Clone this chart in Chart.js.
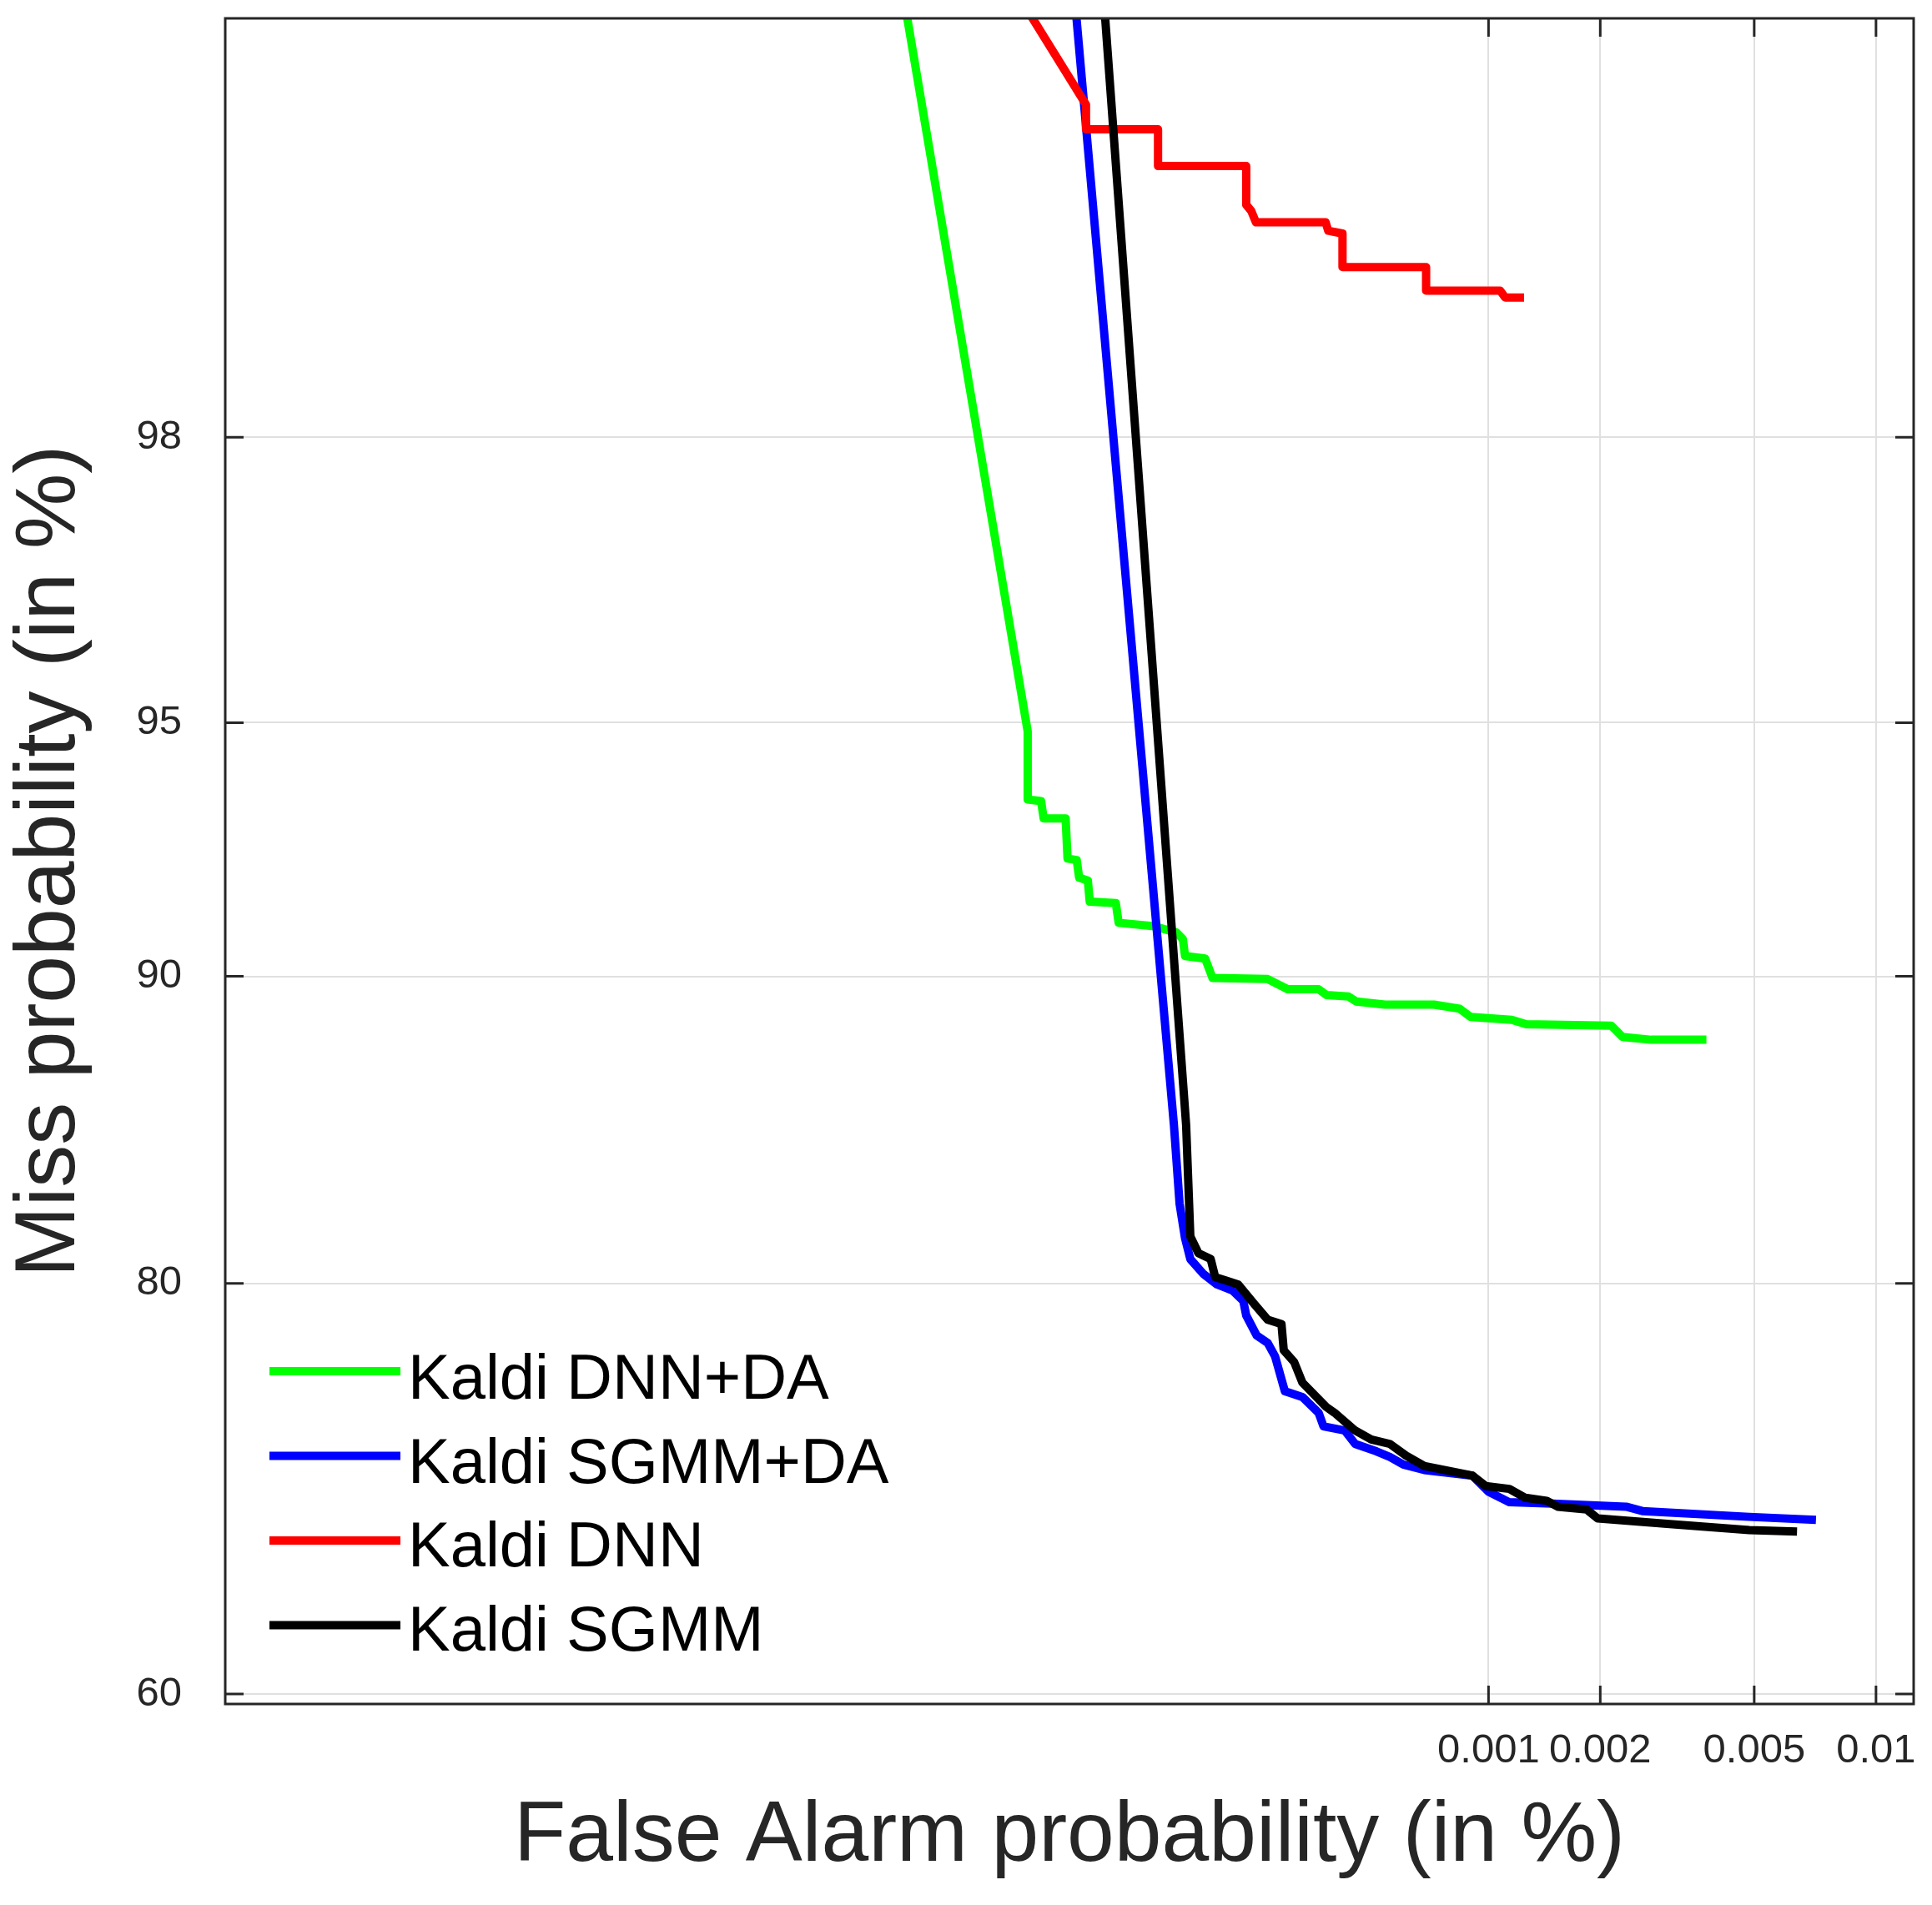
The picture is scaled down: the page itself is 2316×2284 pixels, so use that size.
<!DOCTYPE html>
<html>
<head>
<meta charset="utf-8">
<title>DET curves</title>
<script src="https://cdn.jsdelivr.net/npm/chart.js@4.4.1/dist/chart.umd.min.js"></script>
<style>
    html, body { margin: 0; padding: 0; background: #ffffff; }
    #wrap { width: 2316px; height: 2284px; }
</style>
</head>
<body>
<div id="wrap"><canvas id="detChart"></canvas></div>
<script>
    // values are in % : false alarm (x) and miss (y)
    const seriesNames = ['Kaldi DNN+DA', 'Kaldi SGMM+DA', 'Kaldi DNN', 'Kaldi SGMM'];
    const seriesColors = ['#00ff00', '#0000ff', '#ff0000', '#000000'];

    const dnnDaFA = [1.52e-5, 4.46e-5, 4.46e-5, 4.91e-5, 5.00e-5, 5.85e-5, 5.93e-5, 6.33e-5, 6.44e-5, 6.85e-5,
        6.94e-5, 8.34e-5, 8.51e-5, 1.09e-4, 1.27e-4, 1.33e-4, 1.35e-4, 1.55e-4, 1.63e-4, 2.37e-4,
        2.71e-4, 3.33e-4, 3.51e-4, 4.06e-4, 4.27e-4, 5.15e-4, 7.07e-4, 8.33e-4, 8.93e-4, 1.158e-3,
        1.267e-3, 2.14e-3, 2.29e-3, 2.72e-3, 3.78e-3];
    const dnnDaMiss = [99.8, 94.87, 93.76, 93.73, 93.42, 93.42, 92.65, 92.62, 92.26, 92.20,
        91.75, 91.72, 91.28, 91.20, 91.06, 90.90, 90.50, 90.44, 89.96, 89.93,
        89.67, 89.67, 89.52, 89.48, 89.35, 89.27, 89.27, 89.16, 88.94, 88.86,
        88.74, 88.70, 88.39, 88.31, 88.31];

    const sgmmDaFA = [5.73e-5, 1.25e-4, 1.30e-4, 1.35e-4, 1.40e-4, 1.53e-4, 1.68e-4, 1.87e-4, 2.01e-4, 2.05e-4,
        2.20e-4, 2.37e-4, 2.49e-4, 2.66e-4, 2.99e-4, 3.33e-4, 3.44e-4, 3.96e-4, 4.24e-4, 4.87e-4,
        5.32e-4, 5.80e-4, 6.64e-4, 9.03e-4, 1.0e-3, 1.14e-3, 1.49e-3, 2.34e-3, 2.58e-3, 4.86e-3,
        7.13e-3];
    const sgmmDaMiss = [99.8, 85.75, 83.04, 81.76, 80.96, 80.38, 79.96, 79.71, 79.29, 78.69,
        77.85, 77.53, 76.95, 75.40, 75.14, 74.42, 73.79, 73.59, 72.96, 72.61,
        72.34, 71.98, 71.71, 71.44, 70.65, 70.13, 70.06, 69.91, 69.69, 69.40,
        69.25];

    const dnnFA = [2.28e-5, 6.76e-5, 6.76e-5, 1.12e-4, 1.12e-4, 2.05e-4, 2.05e-4, 2.12e-4, 2.19e-4, 3.49e-4,
        3.55e-4, 3.90e-4, 3.90e-4, 6.72e-4, 6.72e-4, 1.077e-3, 1.11e-3, 1.25e-3];
    const dnnMiss = [99.8, 99.43, 99.37, 99.37, 99.27, 99.27, 99.15, 99.13, 99.09, 99.09,
        99.06, 99.05, 98.92, 98.92, 98.82, 98.82, 98.79, 98.79];

    const sgmmFA = [7.14e-5, 1.36e-4, 1.40e-4, 1.48e-4, 1.61e-4, 1.66e-4, 1.77e-4, 1.94e-4, 2.16e-4, 2.37e-4,
        2.60e-4, 2.64e-4, 2.83e-4, 2.99e-4, 3.50e-4, 3.70e-4, 4.24e-4, 4.71e-4, 5.32e-4, 5.90e-4,
        6.64e-4, 9.03e-4, 9.83e-4, 1.14e-3, 1.26e-3, 1.44e-3, 1.54e-3, 1.84e-3, 1.97e-3, 3.04e-3,
        4.86e-3, 6.40e-3];
    const sgmmMiss = [99.8, 85.74, 81.83, 81.19, 80.96, 80.25, 80.13, 79.96, 79.18, 78.51,
        78.33, 77.21, 76.70, 75.79, 74.69, 74.42, 73.59, 73.17, 72.96, 72.41,
        71.91, 71.44, 70.93, 70.79, 70.35, 70.20, 69.91, 69.77, 69.32, 69.04,
        68.73, 68.66];

    const xTickValues = [0.001, 0.002, 0.005, 0.01];
    const xTickLabels = ['0.001', '0.002', '0.005', '0.01'];
    const yTickValues = [60, 80, 90, 95, 98];
    const yTickLabels = ['60', '80', '90', '95', '98'];
    const xLimits = [7.49e-8, 0.01232];
    const yLimits = [59.45, 99.602];

    // inverse of the normal CDF (Acklam), DET axes are on the normal deviate scale
    function probit(p) {
        const a = [-3.969683028665376e+01, 2.209460984245205e+02, -2.759285104469687e+02,
            1.383577518672690e+02, -3.066479806614716e+01, 2.506628277459239e+00];
        const b = [-5.447609879822406e+01, 1.615858368580409e+02, -1.556989798598866e+02,
            6.680131188771972e+01, -1.328068155288572e+01];
        const c = [-7.784894002430293e-03, -3.223964580411365e-01, -2.400758277161838e+00,
            -2.549732539343734e+00, 4.374664141464968e+00, 2.938163982698783e+00];
        const d = [7.784695709041462e-03, 3.224671290700398e-01, 2.445134137142996e+00,
            3.754408661907416e+00];
        const pLow = 0.02425;
        let q, r;
        if (p < pLow) {
            q = Math.sqrt(-2 * Math.log(p));
            return (((((c[0] * q + c[1]) * q + c[2]) * q + c[3]) * q + c[4]) * q + c[5]) /
                ((((d[0] * q + d[1]) * q + d[2]) * q + d[3]) * q + 1);
        }
        if (p > 1 - pLow) {
            q = Math.sqrt(-2 * Math.log(1 - p));
            return -(((((c[0] * q + c[1]) * q + c[2]) * q + c[3]) * q + c[4]) * q + c[5]) /
                ((((d[0] * q + d[1]) * q + d[2]) * q + d[3]) * q + 1);
        }
        q = p - 0.5;
        r = q * q;
        return (((((a[0] * r + a[1]) * r + a[2]) * r + a[3]) * r + a[4]) * r + a[5]) * q /
            (((((b[0] * r + b[1]) * r + b[2]) * r + b[3]) * r + b[4]) * r + 1);
    }

    function toPoints(fa, miss) {
        return fa.map((f, i) => ({ x: probit(f / 100), y: probit(miss[i] / 100) }));
    }

    const curves = [
        toPoints(dnnDaFA, dnnDaMiss),
        toPoints(sgmmDaFA, sgmmDaMiss),
        toPoints(dnnFA, dnnMiss),
        toPoints(sgmmFA, sgmmMiss)
    ];
    const drawOrder = [3, 2, 1, 0]; // black on top, green at the bottom

    const textColor = '#262626';
    Chart.defaults.font.family = '"Liberation Sans", Arial, Helvetica, sans-serif';

    // box, inward ticks and the legend drawn inside the axes
    const detFrame = {
        id: 'detFrame',
        afterDatasetsDraw(chart) {
            const { ctx, chartArea: a, scales } = chart;
            const len = 22;
            ctx.save();
            ctx.strokeStyle = textColor;
            ctx.lineWidth = 3;
            ctx.beginPath();
            scales.x.ticks.forEach(t => {
                const px = scales.x.getPixelForValue(t.value);
                ctx.moveTo(px, a.bottom); ctx.lineTo(px, a.bottom - len);
                ctx.moveTo(px, a.top); ctx.lineTo(px, a.top + len);
            });
            scales.y.ticks.forEach(t => {
                const py = scales.y.getPixelForValue(t.value);
                ctx.moveTo(a.left, py); ctx.lineTo(a.left + len, py);
                ctx.moveTo(a.right, py); ctx.lineTo(a.right - len, py);
            });
            ctx.stroke();
            ctx.strokeRect(a.left, a.top, a.right - a.left, a.bottom - a.top);

            ctx.font = '76px "Liberation Sans", Arial, sans-serif';
            ctx.textBaseline = 'alphabetic';
            ctx.textAlign = 'left';
            chart.data.datasets.forEach((ds, i) => {
                const ly = 1644 + i * 101.5;
                ctx.strokeStyle = ds.borderColor;
                ctx.lineWidth = 10;
                ctx.beginPath();
                ctx.moveTo(323, ly);
                ctx.lineTo(480, ly);
                ctx.stroke();
                ctx.fillStyle = '#000000';
                ctx.fillText(ds.label, 489, 1677 + i * 100.5);
            });
            ctx.restore();
        }
    };

    const ctx = document.getElementById('detChart').getContext('2d');
    new Chart(ctx, {
        type: 'line',
        data: {
            datasets: curves.map((pts, i) => ({
                label: seriesNames[i],
                data: pts,
                borderColor: seriesColors[i],
                backgroundColor: seriesColors[i],
                borderWidth: 10,
                borderJoinStyle: 'round',
                pointRadius: 0,
                tension: 0,
                fill: false,
                order: drawOrder[i]
            }))
        },
        options: {
            responsive: true,
            maintainAspectRatio: false,
            animation: false,
            layout: { padding: { left: 0, top: 22, right: 22, bottom: 0 } },
            plugins: {
                legend: { display: false },
                tooltip: { enabled: false }
            },
            scales: {
                x: {
                    type: 'linear',
                    min: probit(xLimits[0] / 100),
                    max: probit(xLimits[1] / 100),
                    afterBuildTicks: (scale) => {
                        scale.ticks = xTickValues.map(v => ({ value: probit(v / 100) }));
                    },
                    afterFit: (scale) => {
                        scale.height = 241;
                        scale.paddingLeft = 0;
                        scale.paddingRight = 0;
                    },
                    ticks: {
                        autoSkip: false,
                        maxRotation: 0,
                        minRotation: 0,
                        padding: 27,
                        color: textColor,
                        font: { size: 49 },
                        callback: (value, index) => xTickLabels[index]
                    },
                    grid: { color: '#e0e0e0', lineWidth: 2, drawTicks: false },
                    border: { display: false },
                    title: {
                        display: true,
                        text: 'False Alarm probability (in %)',
                        color: textColor,
                        font: { size: 102 },
                        padding: { top: 0, bottom: 20 }
                    }
                },
                y: {
                    type: 'linear',
                    min: probit(yLimits[0] / 100),
                    max: probit(yLimits[1] / 100),
                    afterBuildTicks: (scale) => {
                        scale.ticks = yTickValues.map(v => ({ value: probit(v / 100) }));
                    },
                    afterFit: (scale) => {
                        scale.width = 270;
                        scale.paddingTop = 0;
                        scale.paddingBottom = 0;
                    },
                    ticks: {
                        autoSkip: false,
                        padding: 52,
                        color: textColor,
                        font: { size: 49 },
                        callback: (value, index) => yTickLabels[index]
                    },
                    grid: { color: '#e0e0e0', lineWidth: 2, drawTicks: false },
                    border: { display: false },
                    title: {
                        display: true,
                        text: 'Miss probability (in %)',
                        color: textColor,
                        font: { size: 102 },
                        padding: { top: 0, bottom: 0 }
                    }
                }
            }
        },
        plugins: [detFrame]
    });
</script>
</body>
</html>
